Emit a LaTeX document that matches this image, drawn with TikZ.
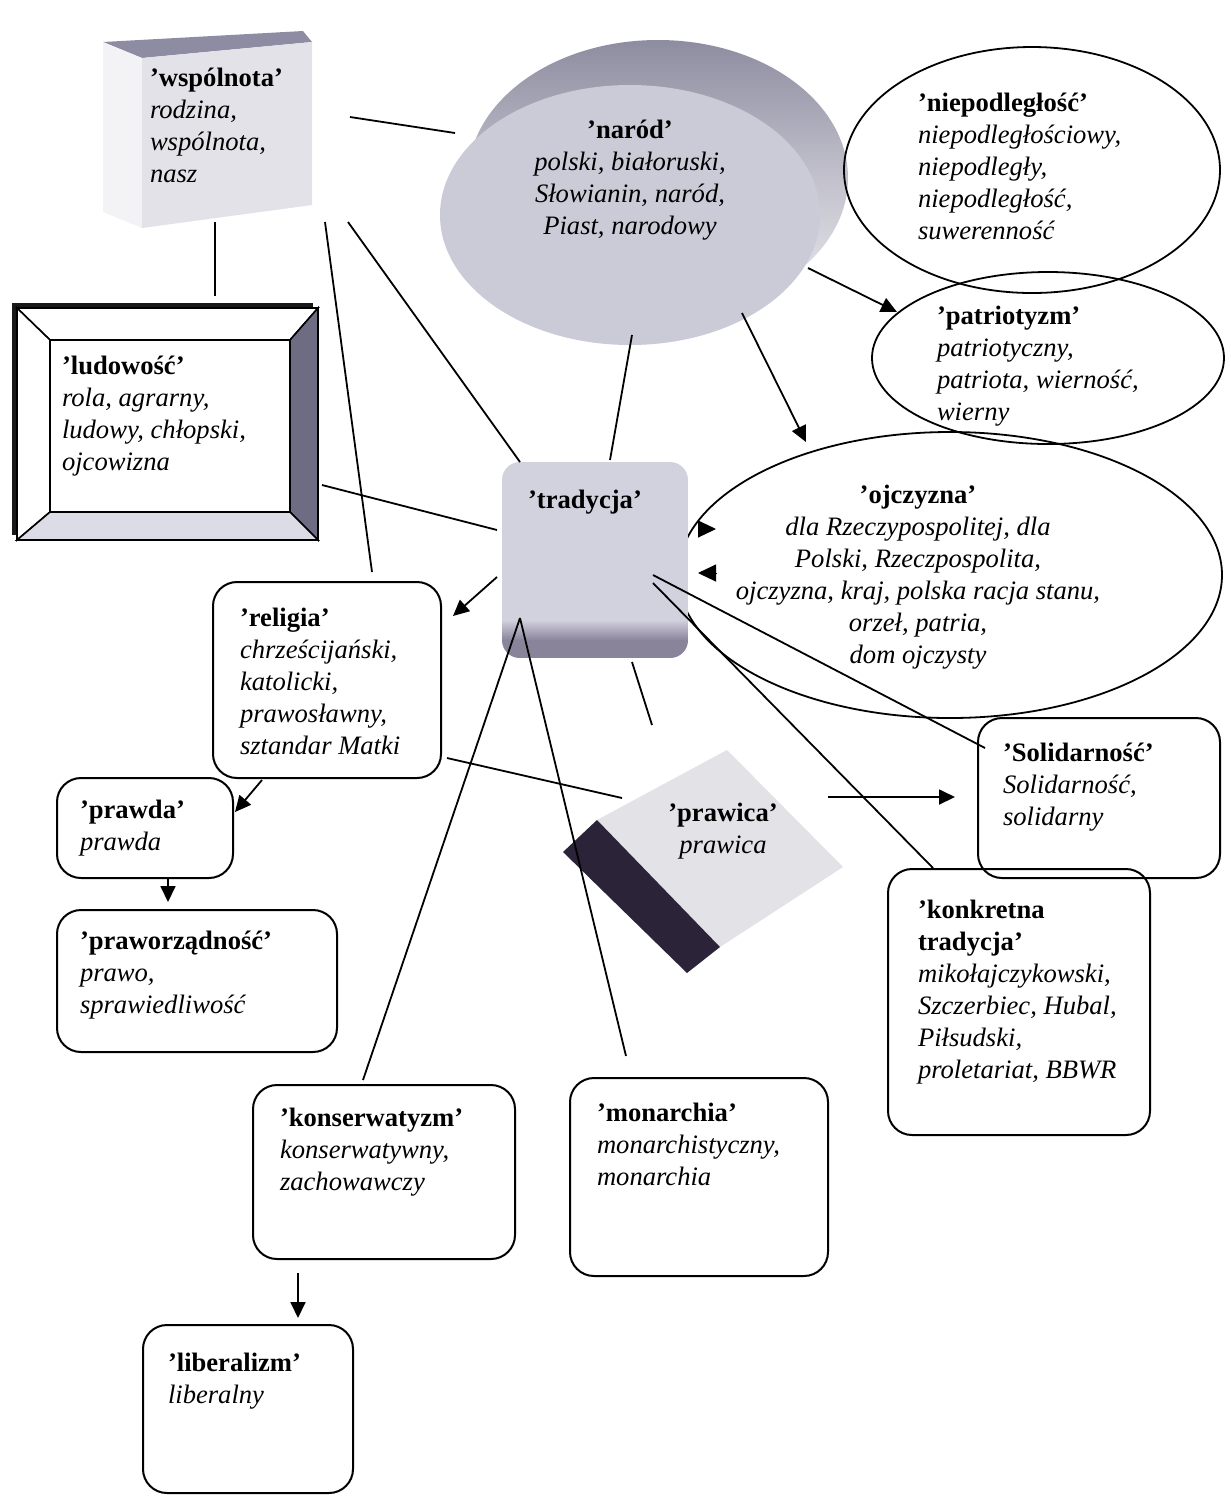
\documentclass[tikz,border=0pt]{standalone}
\usepackage{fontspec}
\setmainfont{Liberation Serif}
\usetikzlibrary{arrows.meta,shapes.geometric}
\definecolor{wtop}{HTML}{8E8CA2}
\definecolor{wfront}{HTML}{E2E2E8}
\definecolor{wside}{HTML}{F3F3F6}
\definecolor{nback}{HTML}{8E8CA0}
\definecolor{nbackl}{HTML}{ECECF0}
\definecolor{nfront}{HTML}{CBCAD7}
\definecolor{lright}{HTML}{6E6C82}
\definecolor{lbottom}{HTML}{DCDCE6}
\definecolor{tlight}{HTML}{D2D1DE}
\definecolor{tdark}{HTML}{8A849B}
\definecolor{plight}{HTML}{E2E2E7}
\definecolor{pdark}{HTML}{2B2438}
\newcommand{\ttl}[1]{\textbf{\upshape '#1'}}
\begin{document}
\begin{tikzpicture}[x=0.5pt,y=-0.5pt,
  every node/.style={inner sep=0pt, outer sep=0pt},
  rbox/.style={draw, line width=1pt, rounded corners=12pt},
  oval/.style={draw, ellipse, line width=0.9pt},
  lbl/.style={anchor=north west, align=left, font=\fontsize{13.3}{16}\selectfont\itshape},
  clbl/.style={lbl, anchor=north, align=center},
  conn/.style={line width=0.9pt},
  arr/.style={conn, -{Triangle[length=8pt,width=7.5pt]}},
  tip/.style={line width=0.5pt, -{Triangle[length=9pt,width=8.5pt]}}]
\useasboundingbox (0,0) rectangle (1231,1496);
\fill[white] (0,0) rectangle (1231,1496);

% ---- wspolnota (3D box)
\fill[wtop] (103,42) -- (303,31) -- (312,42) -- (142,58) -- cycle;
\fill[wside] (103,42) -- (142,58) -- (142,228) -- (103,212) -- cycle;
\fill[wfront] (142,58) -- (312,42) -- (312,205) -- (142,228) -- cycle;
\node[minimum width=104.5pt, minimum height=98pt] (wsp) at (207,130) {};
\node[lbl] at (150,68) {\ttl{wspólnota}\\rodzina,\\wspólnota,\\nasz};

% ---- narod (disk)
\node[ellipse, minimum width=190pt, minimum height=138pt, top color=nback, bottom color=nbackl, middle color=nback!45!nbackl] (narodback) at (658,178) {};
\node[ellipse, fill=nfront, minimum width=190pt, minimum height=130pt] (narod) at (630,215) {};
\node[clbl] at (630,120) {\ttl{naród}\\polski, białoruski,\\Słowianin, naród,\\Piast, narodowy};

% ---- ellipses on the right
\node[oval, minimum width=188pt, minimum height=123pt] (niep) at (1032,170) {};
\node[lbl] at (918,93) {\ttl{niepodległość}\\niepodległościowy,\\niepodległy,\\niepodległość,\\suwerenność};
\node[oval, minimum width=176pt, minimum height=86pt] (patr) at (1048,358) {};
\node[lbl] at (937,306) {\ttl{patriotyzm}\\patriotyczny,\\patriota, wierność,\\wierny};
\node[oval, minimum width=272pt, minimum height=143pt] (ojcz) at (950,575) {};
\node[clbl] at (918,485) {\ttl{ojczyzna}\\dla Rzeczypospolitej, dla\\Polski, Rzeczpospolita,\\ojczyzna, kraj, polska racja stanu,\\orzeł, patria,\\dom ojczysty};

% ---- ludowosc (bevelled frame)
\fill[black!90] (12,303) rectangle (313,535);
\begin{scope}[line width=0.8pt, line join=miter]
\filldraw[fill=white] (17,308) -- (318,308) -- (290,340) -- (50,340) -- cycle;
\filldraw[fill=white] (17,308) -- (50,340) -- (50,512) -- (17,540) -- cycle;
\filldraw[fill=lright] (318,308) -- (318,540) -- (290,512) -- (290,340) -- cycle;
\filldraw[fill=lbottom] (17,540) -- (318,540) -- (290,512) -- (50,512) -- cycle;
\filldraw[fill=white] (50,340) rectangle (290,512);
\end{scope}
\node[minimum width=151pt, minimum height=116pt] (lud) at (166,424) {};
\node[lbl] at (62,356) {\ttl{ludowość}\\rola, agrarny,\\ludowy, chłopski,\\ojcowizna};

% ---- tradycja
\begin{scope}
\clip[rounded corners=9pt] (502,462) rectangle (688,658);
\fill[tlight] (502,462) rectangle (688,658);
\shade[top color=tlight, bottom color=tdark] (502,620) rectangle (688,640);
\fill[tdark] (502,640) rectangle (688,658);
\end{scope}
\node[minimum width=93pt, minimum height=98pt] (trad) at (595,560) {};
\node[clbl] at (585,490) {\ttl{tradycja}};

% ---- prawica
\fill[plight] (727,750) -- (843,867) -- (720,947) -- (597,820) -- cycle;
\fill[pdark] (597,820) -- (720,947) -- (687,973) -- (563,852) -- cycle;
\node[minimum width=100pt, minimum height=100pt] (prawica) at (705,860) {};
\node[clbl] at (723,803) {\ttl{prawica}\\prawica};

% ---- rounded boxes
\node[rbox, minimum width=114pt, minimum height=98pt] (rel) at (327,680) {};
\node[lbl] at (240,608) {\ttl{religia}\\chrześcijański,\\katolicki,\\prawosławny,\\sztandar Matki};
\node[rbox, minimum width=88pt, minimum height=50pt] (prawda) at (145,828) {};
\node[lbl] at (80,800) {\ttl{prawda}\\prawda};
\node[rbox, minimum width=140pt, minimum height=71pt] (praw) at (197,981) {};
\node[lbl] at (80,931) {\ttl{praworządność}\\prawo,\\sprawiedliwość};
\node[rbox, minimum width=121pt, minimum height=80pt] (sol) at (1099,798) {};
\node[lbl] at (1003,743) {\ttl{Solidarność}\\Solidarność,\\solidarny};
\node[rbox, minimum width=131pt, minimum height=133pt] (konk) at (1019,1002) {};
\node[lbl] at (918,900) {\textbf{\upshape 'konkretna}\\\textbf{\upshape tradycja'}\\mikołajczykowski,\\Szczerbiec, Hubal,\\Piłsudski,\\proletariat, BBWR};
\node[rbox, minimum width=131pt, minimum height=87pt] (kons) at (384,1172) {};
\node[lbl] at (280,1108) {\ttl{konserwatyzm}\\konserwatywny,\\zachowawczy};
\node[rbox, minimum width=129pt, minimum height=99pt] (mon) at (699,1177) {};
\node[lbl] at (597,1103) {\ttl{monarchia}\\monarchistyczny,\\monarchia};
\node[rbox, minimum width=105pt, minimum height=84pt] (lib) at (248,1409) {};
\node[lbl] at (168,1353) {\ttl{liberalizm}\\liberalny};

% ---- connectors
\draw[conn] ([shift={(143,-13)}]wsp.center) -- ([shift={(-175,-82)}]narod.center);
\draw[conn] ([shift={(8,92)}]wsp.center) -- ([shift={(49,-128)}]lud.center);
\draw[conn] ([shift={(141,92)}]wsp.center) -- ([shift={(-75,-98)}]trad.center);
\draw[conn] ([shift={(118,92)}]wsp.center) -- ([shift={(45,-108)}]rel.center);
\draw[conn] ([shift={(2,120)}]narod.center) -- ([shift={(15,-100)}]trad.center);
\draw[arr] ([shift={(178,53)}]narod.center) -- ([shift={(-151,-46)}]patr.center);
\draw[arr] ([shift={(112,98)}]narod.center) -- ([shift={(-144,-133)}]ojcz.center);
\draw[conn] ([shift={(156,61)}]lud.center) -- ([shift={(-98,-30)}]trad.center);
\draw[tip] ([shift={(103,-31)}]trad.center) -- ([shift={(121,-31)}]trad.center);
\draw[tip] ([shift={(121,13)}]trad.center) -- ([shift={(103,13)}]trad.center);
\draw[arr] ([shift={(-98,17)}]trad.center) -- ([shift={(126,-64)}]rel.center);
\draw[conn] ([shift={(58,15)}]trad.center) -- ([shift={(-114,-50)}]sol.center);
\draw[conn] ([shift={(58,23)}]trad.center) -- ([shift={(-86,-134)}]konk.center);
\draw[conn] ([shift={(37,102)}]trad.center) -- ([shift={(-53,-135)}]prawica.center);
\draw[conn] ([shift={(-75,58)}]trad.center) -- ([shift={(-21,-92)}]kons.center);
\draw[conn] ([shift={(-75,58)}]trad.center) -- ([shift={(-73,-121)}]mon.center);
\draw[conn] ([shift={(120,78)}]rel.center) -- ([shift={(-83,-62)}]prawica.center);
\draw[arr] ([shift={(-65,100)}]rel.center) -- ([shift={(90,-16)}]prawda.center);
\draw[arr] ([shift={(23,50)}]prawda.center) -- ([shift={(-29,-79)}]praw.center);
\draw[arr] ([shift={(123,-63)}]prawica.center) -- ([shift={(-144,-1)}]sol.center);
\draw[arr] ([shift={(-86,101)}]kons.center) -- ([shift={(50,-91)}]lib.center);
\end{tikzpicture}
\end{document}
